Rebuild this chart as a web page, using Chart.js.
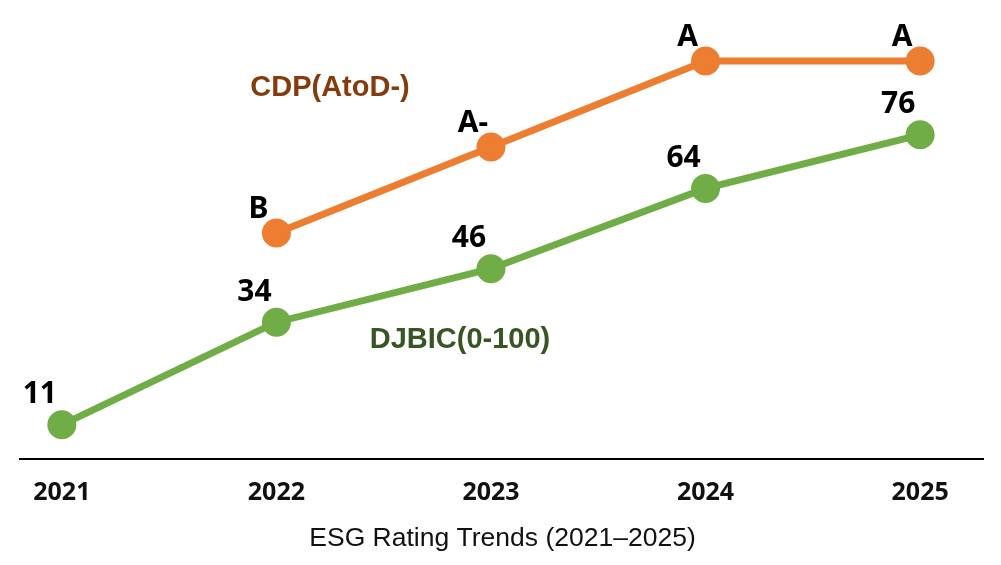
<!DOCTYPE html>
<html>
<head>
<meta charset="utf-8">
<script src="https://cdn.jsdelivr.net/npm/chart.js@4"></script>
<style>
  html, body { margin: 0; padding: 0; background: #fff; }
  #wrap { width: 1001px; height: 565px; }
</style>
</head>
<body>
<div id="wrap"><canvas id="esgChart"></canvas></div>
<script>
// données
const years = [2021, 2022, 2023, 2024, 2025];
const djbicScores = [11, 34, 46, 64, 76];
const cdpYears = [2022, 2023, 2024, 2025];
const cdpGrades = ["B", "A-", "A", "A"];
const cdpScale = ["D-", "D", "C-", "C", "B-", "B", "A-", "A"];

const green = "#70AD47";
const orange = "#ED7D31";

// étiquettes des points + noms des séries
const labelsPlugin = {
  id: "pointLabels",
  afterDatasetsDraw(chart) {
    const ctx = chart.ctx;
    ctx.save();
    ctx.textAlign = "center";
    ctx.textBaseline = "middle";
    ctx.fillStyle = "#000";
    ctx.font = "bold 30px 'Noto Sans'";
    chart.getDatasetMeta(0).data.forEach((pt, i) => {
      ctx.fillText(String(djbicScores[i]), pt.x - 22, pt.y - 30);
    });
    chart.getDatasetMeta(1).data.forEach((pt, i) => {
      ctx.fillText(cdpGrades[i], pt.x - 18, pt.y - 24);
    });
    ctx.font = "bold 29px 'Liberation Sans'";
    ctx.fillStyle = "#843C0C";
    ctx.fillText("CDP(AtoD-)", 330, 88);
    ctx.fillStyle = "#375623";
    ctx.fillText("DJBIC(0-100)", 460, 340);
    ctx.restore();
  },
};

try {
  const ctx = document.getElementById("esgChart");
  new Chart(ctx, {
    type: "line",
    data: {
      datasets: [
        {
          label: "DJBIC(0-100)",
          data: years.map((y, i) => ({ x: y, y: djbicScores[i] })),
          borderColor: green,
          backgroundColor: green,
          borderWidth: 7,
          pointRadius: 11,
          pointHoverRadius: 11,
          yAxisID: "y",
        },
        {
          label: "CDP(AtoD-)",
          data: cdpYears.map((y, i) => ({ x: y, y: cdpScale.indexOf(cdpGrades[i]) })),
          borderColor: orange,
          backgroundColor: orange,
          borderWidth: 7,
          pointRadius: 11,
          pointHoverRadius: 11,
          yAxisID: "y1",
        },
      ],
    },
    plugins: [labelsPlugin],
    options: {
      responsive: true,
      maintainAspectRatio: false,
      animation: false,
      layout: { padding: { left: 20, right: 16, top: 10, bottom: 14 } },
      plugins: {
        legend: { display: false },
        tooltip: { enabled: false },
        title: {
          display: true,
          position: "bottom",
          text: "ESG Rating Trends (2021–2025)",
          color: "#111",
          font: { family: "'Liberation Sans'", size: 26.5, weight: "normal", lineHeight: 0.9 },
          padding: { top: 0, bottom: 0 },
        },
      },
      scales: {
        x: {
          type: "linear",
          min: 2020.805,
          max: 2025.293,
          afterBuildTicks: (scale) => {
            scale.ticks = years.map((v) => ({ value: v }));
          },
          grid: { display: false, drawTicks: false },
          border: { display: true, color: "#000", width: 2 },
          ticks: {
            color: "#111",
            padding: 22,
            maxRotation: 0,
            autoSkip: false,
            font: { family: "'Noto Sans'", size: 25, weight: "bold", lineHeight: 0.96 },
            callback: (v) => String(v),
          },
        },
        y: {
          display: false,
          min: 3.3,
          max: 102.2,
        },
        y1: {
          display: false,
          min: 2.37,
          max: 7.5,
        },
      },
    },
  });
} catch (error) {
  console.error("Erreur graphique ESG:", error);
}
</script>
</body>
</html>
